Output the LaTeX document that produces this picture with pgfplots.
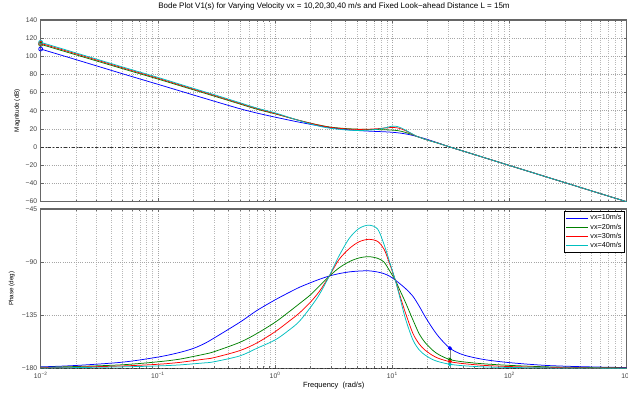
\documentclass[border=0pt]{standalone}
\usepackage{fontspec}
\setmainfont{Liberation Sans}
\usepackage{pgfplots}
\usepackage{pgfplotstable}
\pgfplotsset{compat=1.18}
\definecolor{mblue}{rgb}{0,0,1}
\definecolor{mgreen}{rgb}{0,0.5,0}
\definecolor{mred}{rgb}{1,0,0}
\definecolor{mcyan}{rgb}{0,0.75,0.75}
\definecolor{axgray}{gray}{0.4}

\pgfplotstableread{
w b g r c
0.01 108 113.2 114.3 115.4
0.02 96.3 101.6 102.7 103.7
0.05 80.7 86.3 87.3 88.2
0.1 69.1 74.9 75.8 76.7
0.2 57.4 63.1 63.9 64.7
0.3 50.6 56.2 57.0 57.8
0.5 42.2 47.4 48.1 48.8
0.7 37.4 41.6 42.3 42.9
1 32.9 36.5 36.9 37.6
1.5 28.1 30.3 30.3 30.3
2 25.0 26.3 26.1 25.4
2.5 22.8 23.6 23.3 22.3
3 21.2 21.8 21.5 20.5
4 19.3 20.3 19.9 18.8
5 18.2 19.7 19.4 18.2
6 17.6 19.4 19.5 18.4
7 17.2 19.2 19.9 19.1
8 16.9 19.1 20.5 20.2
9 16.6 18.9 21.1 21.6
10 16.2 18.6 21.5 23.0
11 15.7 18.1 21.1 22.6
12 15.1 17.2 19.8 20.8
13 14.4 16.0 17.9 18.5
14 13.6 14.7 15.8 16.2
15 12.7 13.4 13.8 14.0
16 11.8 11.9 11.9 12.0
18 10.0 9.6 9.6 9.6
20 8.3 7.6 7.6 7.6
25 4.1 3.9 3.9 3.9
31 0 0 0 0
50 -8.3 -8.3 -8.3 -8.3
100 -20.4 -20.4 -20.4 -20.4
1000 -60.4 -60.4 -60.4 -60.4
}\magtable

\pgfplotstableread{
w b g r c
0.01 -178.8 -179.2 -179.5 -179.7
0.02 -177.6 -178.5 -179 -179.4
0.05 -174.8 -177 -178 -178.8
0.1 -170.5 -174.5 -176.6 -178
0.15 -166.8 -172.4 -175.1 -177.2
0.2 -163.2 -170 -173.5 -176.2
0.25 -159 -168 -172.2 -175.4
0.3 -154.5 -166 -171 -174.5
0.5 -141 -158 -165 -169.5
0.7 -131 -150.5 -158.5 -163
1 -122 -141 -149 -156
1.3 -116 -132.5 -140.5 -148
1.6 -111.5 -125.5 -133.4 -140.5
2 -107.5 -117.8 -124 -128.5
2.4 -104.5 -110 -114.5 -117
2.9 -101.8 -102 -101.8 -101.8
3.5 -99.8 -95 -88 -85
4.3 -98.3 -89.6 -78.5 -69.8
5.2 -97.6 -86.5 -72.8 -61.5
6.3 -97.4 -85.4 -70.7 -58.7
7.5 -98.4 -86.8 -72.5 -62
8.5 -99.8 -90 -79 -75
9.5 -102 -97.5 -91.5 -90
10.6 -105.2 -105.2 -105.2 -105.2
11.5 -108 -113 -117 -118.5
13 -112.5 -124.5 -133.5 -138.5
15 -119 -139 -150.5 -156
17 -127.5 -151 -159.5 -164.5
19 -136 -158 -164.5 -168.7
22 -146 -164.5 -169 -172.5
25 -153.5 -168.5 -171.7 -174.5
31 -163 -172.6 -174.4 -176.6
40 -168.5 -174.5 -176 -177.8
60 -172.5 -176.2 -177.5 -178.8
100 -175.2 -177.5 -178.5 -179.3
200 -177.5 -178.7 -179.2 -179.6
400 -178.6 -179.3 -179.6 -179.8
1000 -179.4 -179.7 -179.8 -179.9
}\phtable

\pgfplotsset{bodestyle/.style={
  scale only axis, width=586pt,
  xmin=0.01, xmax=1000,
  anchor=south west,
  axis line style={axgray, line width=1.1pt},
  tick style={axgray, line width=0.5pt}, tick align=inside,
  major tick length=3pt, minor tick length=1.8pt,
  grid=both,
  major grid style={dash pattern=on 0.6pt off 1.6pt, black!35, line width=0.45pt},
  minor grid style={dash pattern=on 0.6pt off 1.6pt, black!28, line width=0.45pt},
  tick label style={font=\fontsize{6.8}{7}\selectfont, text=black!75},
  xtick={0.01,0.1,1,10,100,1000},
  ylabel style={font=\fontsize{6.3}{7}\selectfont, at={(axis description cs:-0.04,0.5)}, anchor=center},
  clip mode=individual,
  every axis plot/.append style={line width=0.75pt},
}}

\begin{document}
\begin{tikzpicture}[x=1pt,y=1pt]
\begin{semilogxaxis}[bodestyle,
  at={(40.7pt,191.6pt)}, height=181.4pt,
  ymin=-60, ymax=140,
  ytick={-60,-40,-20,0,20,40,60,80,100,120,140},
  yticklabels={−60,−40,−20,0,20,40,60,80,100,120,140},
  xticklabels={},
  ylabel={Magnitude (dB)},
]
\addplot[black!80, dash dot, line width=0.6pt] coordinates {(0.01,0) (1000,0)};
\addplot[mblue, smooth] table[x=w,y=b] {\magtable};
\addplot[mgreen, smooth] table[x=w,y=g] {\magtable};
\addplot[mred, smooth] table[x=w,y=r] {\magtable};
\addplot[mcyan, smooth] table[x=w,y=c] {\magtable};
\addplot[mgreen, only marks, mark=o, mark size=2pt] coordinates {(0.01,113.2)};
\addplot[mred, only marks, mark=o, mark size=2pt] coordinates {(0.01,114.3)};
\addplot[mblue, only marks, mark=o, mark size=2pt] coordinates {(0.01,108)};
\addplot[mcyan, only marks, mark=o, mark size=2pt] coordinates {(0.01,115.4)};
\end{semilogxaxis}

\begin{semilogxaxis}[bodestyle,
  at={(40.7pt,24.7pt)}, height=159.3pt,
  ymin=-180, ymax=-45,
  ytick={-180,-135,-90,-45},
  yticklabels={−180,−135,−90,−45},
  xticklabels={10\textsuperscript{−2},10\textsuperscript{−1},10\textsuperscript{0},10\textsuperscript{1},10\textsuperscript{2},10\textsuperscript{3}},
  ylabel={Phase (deg)},
  ylabel style={at={(axis description cs:-0.0495,0.5)}},
  xlabel={Frequency\ \ (rad/s)},
  xlabel style={font=\fontsize{7.5}{8}\selectfont, at={(axis description cs:0.5,0)}, anchor=center, yshift=-17.7pt},
  legend style={at={(1,1)}, anchor=north east, xshift=-2pt, yshift=-2.5pt,
    draw=none, font=\fontsize{7.2}{7.5}\selectfont,
    inner sep=1pt, row sep=-1.5pt, fill=white, name=leg},
  legend cell align=left,
  legend image code/.code={\draw[#1, line width=0.75pt] (0pt,0pt) -- (22pt,0pt);},
]
\addplot[black!80, dash dot, line width=0.6pt, forget plot] coordinates {(0.01,-180) (1000,-180)};
\addplot[mblue, smooth] table[x=w,y=b] {\phtable};
\addplot[mgreen, smooth] table[x=w,y=g] {\phtable};
\addplot[mred, smooth] table[x=w,y=r] {\phtable};
\addplot[mcyan, smooth] table[x=w,y=c] {\phtable};
\legend{vx=10m/s,vx=20m/s,vx=30m/s,vx=40m/s}
\addplot[gray, line width=0.6pt, forget plot] coordinates {(31,-180) (31,-163)};
\addplot[mblue, only marks, mark=*, mark size=1.6pt, forget plot] coordinates {(31,-163)};
\addplot[mgreen, only marks, mark=*, mark size=1.6pt, forget plot] coordinates {(31,-172.6)};
\addplot[mred, only marks, mark=*, mark size=1.6pt, forget plot] coordinates {(31,-174.4)};
\addplot[mcyan, only marks, mark=*, mark size=1.6pt, forget plot] coordinates {(31,-176.6)};
\end{semilogxaxis}
\draw[black, line width=0.9pt] (leg.south west) rectangle (leg.north east);

\node[font=\fontsize{8}{9}\selectfont] at (334pt,387pt) {Bode Plot V1(s) for Varying Velocity vx = 10,20,30,40 m/s and Fixed Look−ahead Distance L = 15m};
\pgfresetboundingbox
\path[use as bounding box] (0pt,0pt) rectangle (628pt,393pt);
\end{tikzpicture}
\end{document}
